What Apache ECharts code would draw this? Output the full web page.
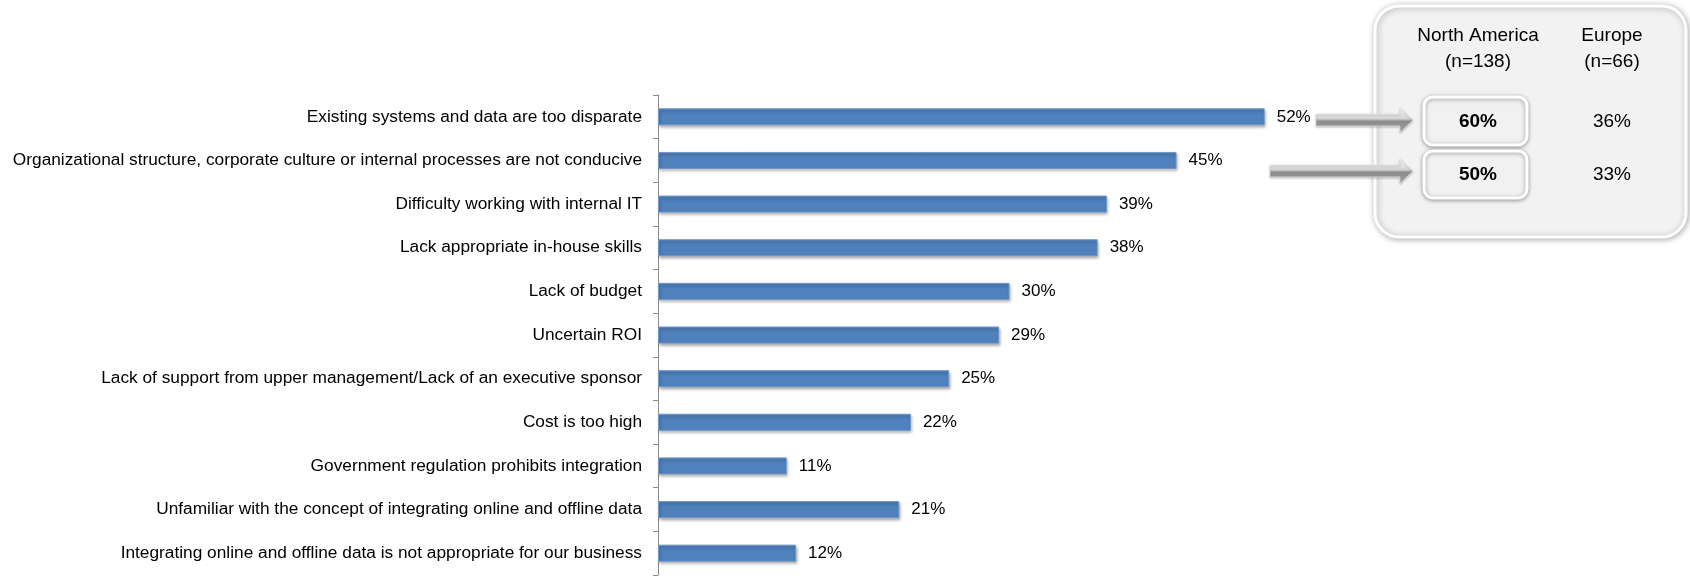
<!DOCTYPE html>
<html>
<head>
<meta charset="utf-8">
<script src="https://cdn.jsdelivr.net/npm/echarts@6/dist/echarts.min.js"></script>
<style>
html,body{margin:0;padding:0;background:#fff;}
#chart{width:1690px;height:576px;}
</style>
</head>
<body>
<div id="chart"></div>
<script>
const categories = [
  'Existing systems and data are too disparate',
  'Organizational structure, corporate culture or internal processes are not conducive',
  'Difficulty working with internal IT',
  'Lack appropriate in-house skills',
  'Lack of budget',
  'Uncertain ROI',
  'Lack of support from upper management/Lack of an executive sponsor',
  'Cost is too high',
  'Government regulation prohibits integration',
  'Unfamiliar with the concept of integrating online and offline data',
  'Integrating online and offline data is not appropriate for our business'
];
// bar lengths (labels show rounded percentages)
const values = [52.3, 44.7, 38.7, 37.9, 30.3, 29.4, 25.1, 21.8, 11.1, 20.8, 11.9];

const regionHeaders = ['North America', 'Europe'];
const regionSamples = ['(n=138)', '(n=66)'];
const northAmericaValues = [60, 50];
const europeValues = [36, 33];

const FONT = '"Liberation Sans", Arial, Helvetica, sans-serif';
const chart = echarts.init(document.getElementById('chart'), null, {renderer: 'canvas'});

function arrow(x1, x2, yc) {
  const sh = 6, hh = 12.5, hl = 13;
  return {
    type: 'polygon',
    z: 20,
    shape: {points: [[x1, yc - sh], [x2 - hl, yc - sh], [x2 - hl, yc - hh], [x2, yc], [x2 - hl, yc + hh], [x2 - hl, yc + sh], [x1, yc + sh]]},
    style: {
      fill: new echarts.graphic.LinearGradient(0, 0, 0, 1, [
        {offset: 0, color: '#ffffff'},
        {offset: 0.45, color: '#d4d4d4'},
        {offset: 0.55, color: '#8c8c8c'},
        {offset: 1, color: '#a0a0a0'}
      ]),
      stroke: '#e6e6e6', lineWidth: 0.8,
      shadowBlur: 2, shadowColor: 'rgba(0,0,0,0.25)', shadowOffsetY: 1
    }
  };
}

const colNA = 1478, colEU = 1612;
const graphics = [
  {type: 'rect', z: 5, shape: {x: 1375, y: 6, width: 311, height: 231, r: 24},
   style: {fill: '#f2f2f2', stroke: '#ffffff', lineWidth: 3, shadowBlur: 6, shadowColor: 'rgba(0,0,0,0.3)', shadowOffsetX: 1, shadowOffsetY: 1}},
  {type: 'rect', z: 10, shape: {x: 1424, y: 97, width: 103, height: 48, r: 9},
   style: {fill: '#f1f1f1', stroke: '#ffffff', lineWidth: 3, shadowBlur: 4, shadowColor: 'rgba(0,0,0,0.35)', shadowOffsetY: 1}},
  {type: 'rect', z: 10, shape: {x: 1424, y: 151, width: 103, height: 47, r: 9},
   style: {fill: '#f1f1f1', stroke: '#ffffff', lineWidth: 3, shadowBlur: 4, shadowColor: 'rgba(0,0,0,0.35)', shadowOffsetY: 1}},
  arrow(1316, 1413, 120),
  arrow(1270, 1413, 171)
];
const cols = [colNA, colEU];
regionHeaders.forEach((h, i) => {
  graphics.push({type: 'text', z: 15, style: {text: h, x: cols[i], y: 36, align: 'center', verticalAlign: 'middle', font: '19px ' + FONT, fill: '#000'}});
  graphics.push({type: 'text', z: 15, style: {text: regionSamples[i], x: cols[i], y: 62, align: 'center', verticalAlign: 'middle', font: '19px ' + FONT, fill: '#000'}});
});
const rowY = [122, 175];
northAmericaValues.forEach((v, i) => {
  graphics.push({type: 'text', z: 15, style: {text: v + '%', x: colNA, y: rowY[i], align: 'center', verticalAlign: 'middle', font: 'bold 19px ' + FONT, fill: '#000'}});
});
europeValues.forEach((v, i) => {
  graphics.push({type: 'text', z: 15, style: {text: v + '%', x: colEU, y: rowY[i], align: 'center', verticalAlign: 'middle', font: '19px ' + FONT, fill: '#000'}});
});

chart.setOption({
  animation: false,
  backgroundColor: '#ffffff',
  grid: {left: 658, top: 95, bottom: 1, right: 336, containLabel: false},
  xAxis: {type: 'value', min: 0, max: 60, show: false, splitLine: {show: false}},
  yAxis: {
    type: 'category', data: categories, inverse: true,
    axisLine: {show: true, lineStyle: {color: '#8a8a8a', width: 1}},
    axisTick: {show: true, length: 5, lineStyle: {color: '#8a8a8a'}},
    axisLabel: {margin: 16, fontSize: 17.3, fontFamily: FONT, color: '#000'}
  },
  series: [{
    type: 'bar', data: values, barWidth: 17,
    itemStyle: {
      color: '#4f81bd', borderColor: '#6f97c8', borderWidth: 1,
      shadowBlur: 3, shadowColor: 'rgba(0,0,0,0.35)', shadowOffsetX: 1, shadowOffsetY: 2
    },
    label: {show: true, position: 'right', distance: 12, formatter: p => Math.round(p.value) + '%', fontSize: 17, fontFamily: FONT, color: '#000'}
  }],
  graphic: graphics
});
</script>
</body>
</html>
